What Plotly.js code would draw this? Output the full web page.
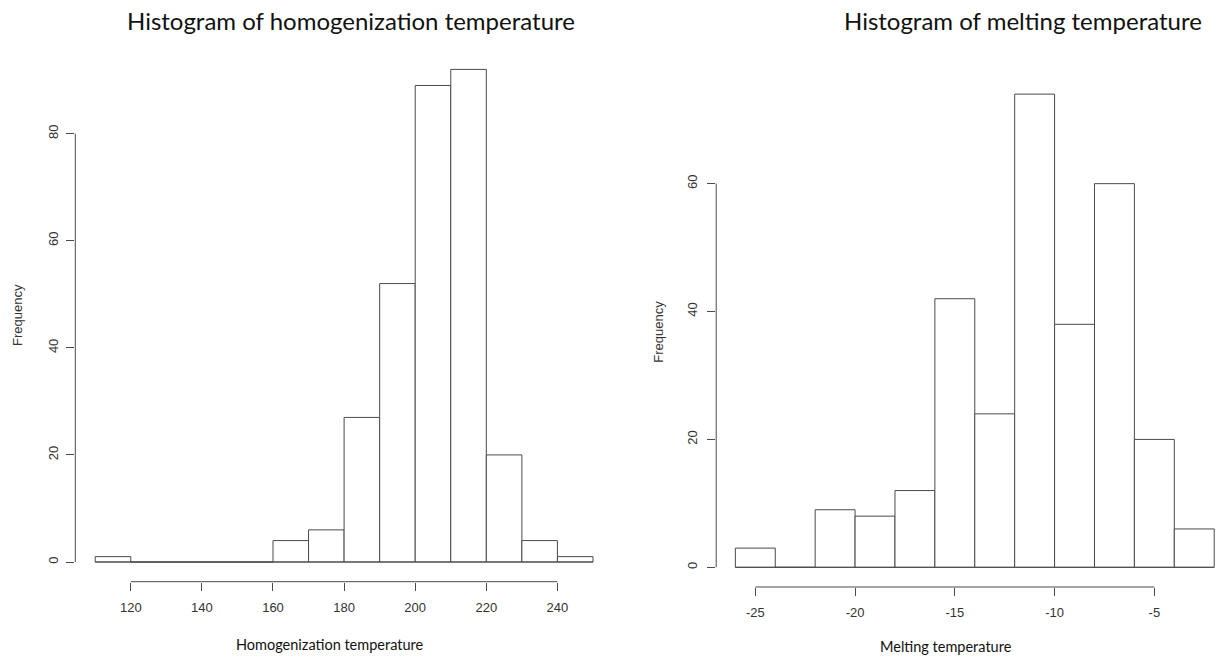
<!DOCTYPE html>
<html>
<head>
<meta charset="utf-8">
<script src="https://cdn.plot.ly/plotly-3.0.1.min.js"></script>
<style>html,body{margin:0;padding:0;background:#fff;}#chart{width:1217px;height:656px;}</style>
</head>
<body>
<div id="chart"></div>
<script>
// Homogenization temperature histogram (bin left edges, bin width 10)
const homogBinStart = [110, 120, 130, 140, 150, 160, 170, 180, 190, 200, 210, 220, 230, 240];
const homogCounts   = [1, 0, 0, 0, 0, 4, 6, 27, 52, 89, 92, 20, 4, 1];
const homogBinWidth = 10;
const homogXTicks = [120, 140, 160, 180, 200, 220, 240];
const homogYTicks = [0, 20, 40, 60, 80];

// Melting temperature histogram (bin left edges, bin width 2)
const meltBinStart = [-26, -24, -22, -20, -18, -16, -14, -12, -10, -8, -6, -4];
const meltCounts   = [3, 0, 9, 8, 12, 42, 24, 74, 38, 60, 20, 6];
const meltBinWidth = 2;
const meltXTicks = [-25, -20, -15, -10, -5];
const meltYTicks = [0, 20, 40, 60];

const titles = ["Histogram of homogenization temperature", "Histogram of melting temperature"];
const xTitles = ["Homogenization temperature", "Melting temperature"];
const yTitle = "Frequency";

const lineCol = '#4a4a4a';
const tickFont = {family: 'Liberation Sans, Arial, sans-serif', size: 13, color: '#333'};
const titleFont = {family: 'Lato, Open Sans, sans-serif', size: 24, color: '#111'};
const axTitleFont = {family: 'Lato, Open Sans, sans-serif', size: 14.5, color: '#111'};

const W = 1217, H = 656;
// plot-region geometry (pixels)
const L = {x0: 75.3, x1: 612.9, yTop: 49.7, yBot: 581.7};
const R = {x0: 716.2, x1: 1217, yTop: 75.2, yBot: 587};

function barTrace(starts, counts, width, xa, ya) {
  return {type: 'bar', x: starts, y: counts, width: width, offset: 0,
    xaxis: xa, yaxis: ya, marker: {color: '#fff', line: {color: lineCol, width: 1}},
    hoverinfo: 'skip', showlegend: false};
}
function baseTrace(starts, width, xa, ya) {
  return {type: 'scatter', mode: 'lines', x: [starts[0], starts[starts.length - 1] + width], y: [0, 0],
    xaxis: xa, yaxis: ya, line: {color: lineCol, width: 1}, hoverinfo: 'skip', showlegend: false};
}

const data = [
  baseTrace(homogBinStart, homogBinWidth, 'x', 'y'),
  barTrace(homogBinStart, homogCounts, homogBinWidth, 'x', 'y'),
  baseTrace(meltBinStart, meltBinWidth, 'x2', 'y2'),
  barTrace(meltBinStart, meltCounts, meltBinWidth, 'x2', 'y2')
];

function axX(dom, range, ticks, standoff) {
  return {domain: dom, range: range, tickmode: 'array', tickvals: ticks, ticktext: ticks.map(String),
    ticks: 'outside', ticklen: 8,
    tickwidth: 1, tickcolor: lineCol, showgrid: false, zeroline: false, showline: false,
    tickfont: tickFont, ticklabelstandoff: standoff, fixedrange: true};
}
function axY(dom, range, ticks, anchor, standoff) {
  return {domain: dom, range: range, tickmode: 'array', tickvals: ticks, ticktext: ticks.map(String),
    ticks: 'outside', ticklen: 8,
    tickwidth: 1, tickcolor: lineCol, showgrid: false, zeroline: false, showline: false,
    tickfont: tickFont, tickangle: -90, anchor: anchor, ticklabelstandoff: standoff, fixedrange: true};
}

const lDomX = [L.x0 / W, L.x1 / W], lDomY = [1 - L.yBot / H, 1 - L.yTop / H];
const rDomX = [R.x0 / W, R.x1 / W], rDomY = [1 - R.yBot / H, 1 - R.yTop / H];

const layout = {
  width: W, height: H, margin: {l: 0, r: 0, t: 0, b: 0},
  paper_bgcolor: '#fff', plot_bgcolor: '#fff', showlegend: false,
  xaxis: Object.assign(axX(lDomX, [104.4, 255.6], homogXTicks, 6), {anchor: 'y'}),
  yaxis: axY(lDomY, [-3.68, 95.68], homogYTicks, 'x', 3),
  xaxis2: Object.assign(axX(rDomX, [-26.96, -1.86], meltXTicks, 5), {anchor: 'y2'}),
  yaxis2: axY(rDomY, [-3.08, 76.96], meltYTicks, 'x2', 5),
  shapes: [
    {type: 'line', xref: 'x', yref: 'paper', x0: homogXTicks[0], x1: homogXTicks[homogXTicks.length - 1], y0: lDomY[0], y1: lDomY[0], line: {color: lineCol, width: 1}},
    {type: 'line', xref: 'paper', yref: 'y', x0: lDomX[0], x1: lDomX[0], y0: homogYTicks[0], y1: homogYTicks[homogYTicks.length - 1], line: {color: lineCol, width: 1}},
    {type: 'line', xref: 'x2', yref: 'paper', x0: meltXTicks[0], x1: meltXTicks[meltXTicks.length - 1], y0: rDomY[0], y1: rDomY[0], line: {color: lineCol, width: 1}},
    {type: 'line', xref: 'paper', yref: 'y2', x0: rDomX[0], x1: rDomX[0], y0: meltYTicks[0], y1: meltYTicks[meltYTicks.length - 1], line: {color: lineCol, width: 1}}
  ],
  annotations: [
    {text: titles[0], xref: 'paper', yref: 'paper', x: 351.3 / W, y: 1 - 20 / H, xanchor: 'center', yanchor: 'middle', showarrow: false, font: titleFont},
    {text: titles[1], xref: 'paper', yref: 'paper', x: 1023.3 / W, y: 1 - 20 / H, xanchor: 'center', yanchor: 'middle', showarrow: false, font: titleFont},
    {text: xTitles[0], xref: 'paper', yref: 'paper', x: 330 / W, y: 1 - 644 / H, xanchor: 'center', yanchor: 'middle', showarrow: false, font: axTitleFont},
    {text: xTitles[1], xref: 'paper', yref: 'paper', x: 946.3 / W, y: 1 - 646 / H, xanchor: 'center', yanchor: 'middle', showarrow: false, font: axTitleFont},
    {text: yTitle, xref: 'paper', yref: 'paper', x: 17.5 / W, y: 1 - 315.5 / H, xanchor: 'center', yanchor: 'middle', textangle: -90, showarrow: false, font: tickFont},
    {text: yTitle, xref: 'paper', yref: 'paper', x: 659 / W, y: 1 - 331.7 / H, xanchor: 'center', yanchor: 'middle', textangle: -90, showarrow: false, font: tickFont}
  ]
};

Plotly.newPlot('chart', data, layout, {displayModeBar: false, staticPlot: true, responsive: false});
</script>
</body>
</html>
